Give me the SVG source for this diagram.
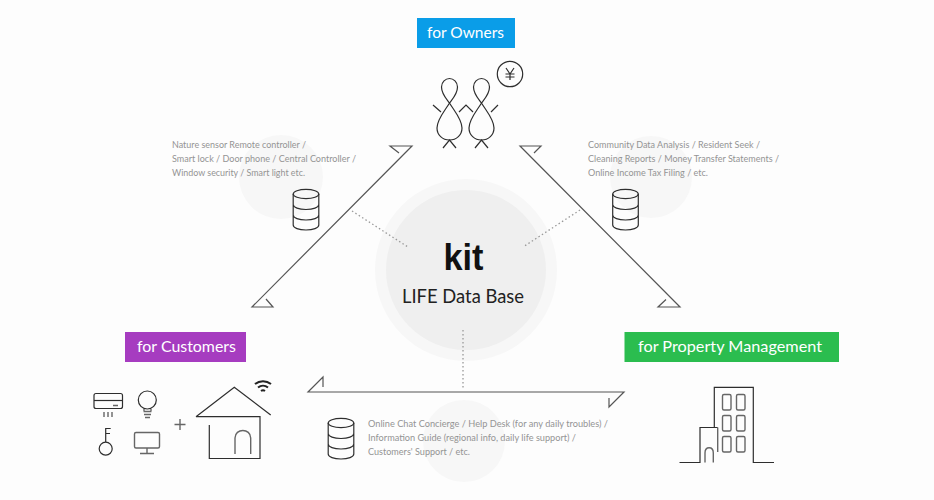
<svg xmlns="http://www.w3.org/2000/svg" width="934" height="500" viewBox="0 0 934 500">
<style>
.ic{fill:none;stroke:#2e2e2e;stroke-width:1.2}
.gr{fill:none;stroke:#666;stroke-width:1.4}
.arrow{fill:none;stroke:#555;stroke-width:1.2}
.dot{fill:none;stroke:#999;stroke-width:1.3;stroke-dasharray:1.5 2.5}
.bg{fill:#f7f7f7}
.tag{font-family:Lato,"Liberation Sans",sans-serif;font-size:16px;fill:#fff}
.sm{font-family:Lato,"Liberation Sans",sans-serif;font-size:9px;fill:#949494}
</style>
<defs>
<g id="db" class="ic">
<ellipse cx="13" cy="5" rx="12.800" ry="4.600" fill="none"/>
<path d="M.2 5V36C.2 39 6 41 13 41S25.800 39 25.800 36V5M.2 15.500C.2 18.500 6 20.500 13 20.500S25.800 18.500 25.800 15.500M.2 26C.2 29 6 31 13 31S25.800 29 25.800 26"/>
</g>
<g id="fig" class="ic">
<path d="M0 0C-3-4-8-9-8-16C-8-21-4-24.500 0-24.500S8-21 8-16C8-9 3-4 0 0C-4 7-12.500 16-12.500 25C-12.500 32-7 37 0 37S12.500 32 12.500 25C12.500 16 4 7 0 0Z"/>
<path d="M-6.500 45L0 37L6.500 45"/>
</g>
</defs>
<rect width="934" height="500" fill="#fdfdfd"/>
<g id="backdrops">
<circle class="bg" cx="281" cy="177" r="42"/>
<circle class="bg" cx="651" cy="177" r="41"/>
<circle class="bg" cx="464" cy="441" r="41"/>
</g>
<g id="connectors">
<path class="arrow" d="M399 153L390 146H412L252 307H273L266 299"/>
<path class="arrow" d="M534 153L541 146H520L680 307H658L666 299.500"/>
<path class="arrow" d="M323 387V377L308 392H624L609 407V398"/>
</g>
<g id="hub">
<circle cx="466" cy="270" r="91" fill="#f7f7f7"/>
<circle cx="466" cy="270" r="80" fill="#efefef"/>
<text x="443.500" y="270" font-family="'Liberation Sans',sans-serif" font-weight="700" font-size="36" fill="#111" textLength="40" lengthAdjust="spacingAndGlyphs">kit</text>
<text x="402" y="303" font-family="Lato,'Liberation Sans',sans-serif" font-size="18.500" fill="#222" textLength="122" lengthAdjust="spacingAndGlyphs">LIFE Data Base</text>
</g>
<g id="dots">
<path class="dot" d="M352 211L408 247"/>
<path class="dot" d="M580 210L523 247"/>
<path class="dot" d="M463 330V390"/>
</g>
<g id="owners">
<rect x="417" y="18" width="98" height="30" fill="#0a9de8"/>
<text class="tag" x="427" y="38" textLength="77" lengthAdjust="spacingAndGlyphs">for Owners</text>
<use href="#fig" x="449.500" y="103"/>
<use href="#fig" x="481.500" y="103"/>
<path class="ic" d="M433 105L441 112M459 112L466 105L473 112M491 112L498 105"/>
<circle class="ic" cx="510" cy="74" r="12.700"/>
<path class="ic" d="M506 68L510 74L514 68M510 74V80M505.500 74H514.500M505.500 77H514.500"/>
</g>
<g id="customers">
<rect x="125" y="332" width="121" height="30" fill="#a63cc0"/>
<text class="tag" x="137" y="352" textLength="99" lengthAdjust="spacingAndGlyphs">for Customers</text>
<rect class="ic" x="94" y="393.500" width="28.500" height="15" rx="2"/>
<path class="ic" d="M94 400.500H122.500"/>
<path class="gr" d="M113 405.500H118M104 412V417M108 412V417M112 412V417"/>
<circle class="ic" cx="147.300" cy="400" r="9"/>
<path class="gr" d="M144 409V411M151 409V411M143.500 411.500H151.500M144 414.500H151M145 417.500H150"/>
<circle class="ic" cx="105.700" cy="448.700" r="6.500"/>
<path class="ic" d="M105.700 442V428.500H110.700M105.700 433.500H110"/>
<rect class="gr" x="134.500" y="432.500" width="25" height="15.500" rx="1.500"/>
<path class="gr" d="M147 448V453.500M140 453.500H154"/>
<path class="gr" d="M174.500 424.500H185.500M180 419V430"/>
<path class="ic" d="M196 416.700L234.300 387.300L270.700 415M209.300 425V458.500H260V416.700H196"/>
<path class="gr" d="M235 454V438C235 428 250.700 428 250.700 438V454"/>
<path d="M255 384A13 13 0 0 1 271 384M258 387.500A8 8 0 0 1 268 387.500M261 391A3.500 3.500 0 0 1 265 391" fill="none" stroke="#222" stroke-width="2"/>
</g>
<g id="management">
<rect x="624.500" y="332" width="214.500" height="30" fill="#2bbd4f"/>
<text class="tag" x="638" y="352" textLength="184" lengthAdjust="spacingAndGlyphs">for Property Management</text>
<path class="ic" d="M679.500 462.500H700V427.500H717.700"/>
<path class="gr" d="M717.700 427.500V452"/>
<path class="ic" d="M714.300 427.500V387.300H753.300V462.500H774"/>
<path class="gr" d="M705 462.500V453C705 446 713.300 446 713.300 453V462.500"/>
<g class="gr">
<rect x="722.500" y="394.500" width="8.500" height="15.500" rx="1.500"/><rect x="736.500" y="394.500" width="8.500" height="15.500" rx="1.500"/>
<rect x="722.500" y="415.500" width="8.500" height="15.500" rx="1.500"/><rect x="736.500" y="415.500" width="8.500" height="15.500" rx="1.500"/>
<rect x="722.500" y="436.500" width="8.500" height="15.500" rx="1.500"/><rect x="736.500" y="436.500" width="8.500" height="15.500" rx="1.500"/>
</g>
</g>
<g id="note-sensors">
<use href="#db" x="293" y="189"/>
<text class="sm" x="172" y="148" textLength="134" lengthAdjust="spacingAndGlyphs">Nature sensor Remote controller /</text>
<text class="sm" x="172" y="162" textLength="184" lengthAdjust="spacingAndGlyphs">Smart lock / Door phone / Central Controller /</text>
<text class="sm" x="172" y="176" textLength="133" lengthAdjust="spacingAndGlyphs">Window security / Smart light etc.</text>
</g>
<g id="note-reports">
<use href="#db" x="612.500" y="189"/>
<text class="sm" x="588" y="148" textLength="172" lengthAdjust="spacingAndGlyphs">Community Data Analysis / Resident Seek /</text>
<text class="sm" x="588" y="162" textLength="191" lengthAdjust="spacingAndGlyphs">Cleaning Reports / Money Transfer Statements /</text>
<text class="sm" x="588" y="176" textLength="120" lengthAdjust="spacingAndGlyphs">Online Income Tax Filing / etc.</text>
</g>
<g id="note-support">
<use href="#db" x="328" y="418"/>
<text class="sm" x="368" y="427" textLength="240" lengthAdjust="spacingAndGlyphs">Online Chat Concierge / Help Desk (for any daily troubles) /</text>
<text class="sm" x="368" y="441" textLength="208" lengthAdjust="spacingAndGlyphs">Information Guide (regional info, daily life support) /</text>
<text class="sm" x="368" y="455" textLength="102" lengthAdjust="spacingAndGlyphs">Customers' Support / etc.</text>
</g>
</svg>
